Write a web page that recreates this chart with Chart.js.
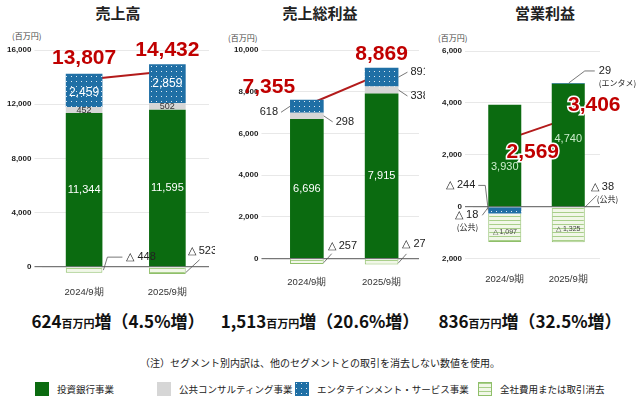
<!DOCTYPE html>
<html><head><meta charset="utf-8">
<script src="https://cdn.jsdelivr.net/npm/chart.js@4"></script>
<style>
body{margin:0;background:#fff;font-family:"Noto Sans CJK JP","Noto Sans",sans-serif;}
#wrap{position:relative;width:640px;height:406px;overflow:hidden;}
.box{position:absolute;top:0;}
.t{position:absolute;font-weight:bold;font-size:15px;color:#222;transform:translateX(-50%);white-space:nowrap;}
.u{position:absolute;font-size:8px;color:#444;}
.sum{position:absolute;top:308px;font-weight:bold;font-size:17px;color:#111;transform:translateX(-50%);white-space:nowrap;}
.sum small{font-size:11px;}
.note{position:absolute;top:355px;left:0;width:640px;text-align:center;font-size:10px;color:#222;}
.lg{position:absolute;top:382px;font-size:9.5px;color:#222;display:flex;align-items:center;}
.sw{width:14px;height:14px;margin-right:8px;display:inline-block;}
</style></head><body>
<div id="wrap">
  <div class="t" style="left:118px;top:2px">売上高</div>
  <div class="t" style="left:320px;top:2px">売上総利益</div>
  <div class="t" style="left:545px;top:2px">営業利益</div>
  <div class="u" style="left:12px;top:30px">(百万円)</div>
  <div class="u" style="left:228px;top:32px">(百万円)</div>
  <div class="u" style="left:438px;top:32px">(百万円)</div>
  <div class="box" style="left:0;width:215px;height:301px"><canvas id="c1"></canvas></div>
  <div class="box" style="left:213px;width:212px;height:291px"><canvas id="c2"></canvas></div>
  <div class="box" style="left:425px;width:215px;height:288px"><canvas id="c3"></canvas></div>
  <div class="sum" style="left:118px">624<small>百万円</small>増（4.5%増）</div>
  <div class="sum" style="left:320px">1,513<small>百万円</small>増（20.6%増）</div>
  <div class="sum" style="left:530px">836<small>百万円</small>増（32.5%増）</div>
  <div class="note">（注）セグメント別内訳は、他のセグメントとの取引を消去しない数値を使用。</div>
  <div class="lg" style="left:35px"><span class="sw" style="background:#0b6b10"></span>投資銀行事業</div>
  <div class="lg" style="left:157px"><span class="sw" style="background:#d6d6d6"></span>公共コンサルティング事業</div>
  <div class="lg" style="left:295px"><span class="sw" id="swEnt"></span>エンタテインメント・サービス事業</div>
  <div class="lg" style="left:478px"><span class="sw" id="swCorp" style="border:1px solid #8fbf6a;box-sizing:border-box"></span>全社費用または取引消去</div>
</div>
<script>
const periods = ['2024/9期', '2025/9期'];

const salesInvest = [11344, 11595];
const salesConsult = [452, 502];
const salesEnt = [2459, 2859];
const salesCorp = [-448, -523];
const salesTotal = [13807, 14432];

const grossInvest = [6696, 7915];
const grossConsult = [298, 338];
const grossEnt = [618, 891];
const grossCorp = [-257, -276];
const grossTotal = [7355, 8869];

const opInvest = [3930, 4740];
const opConsult = [-18, -38];
const opEnt = [-244, 29];
const opCorp = [-1097, -1325];
const opTotal = [2569, 3406];

const salesTicks = [0, 4000, 8000, 12000, 16000];
const grossTicks = [0, 2000, 4000, 6000, 8000, 10000];
const opTicks = [-2000, 0, 2000, 4000, 6000];

const GREEN = '#0b6b10', GRAY = '#d6d6d6', RED = '#b31b1b';

function makePattern(kind) {
  const c = document.createElement('canvas');
  const g = c.getContext('2d');
  if (kind === 'ent') {
    c.width = 5; c.height = 5;
    g.fillStyle = '#1f6fa5'; g.fillRect(0, 0, 5, 5);
    g.fillStyle = 'rgba(255,255,255,0.85)'; g.fillRect(1, 1, 1, 1);
  } else {
    c.width = 4; c.height = 4;
    g.fillStyle = '#f1f7e8'; g.fillRect(0, 0, 4, 4);
    g.fillStyle = '#a9cf8a'; g.fillRect(0, 0, 4, 1);
  }
  return c;
}
const entCanvas = makePattern('ent'), corpCanvas = makePattern('corp');
document.getElementById('swEnt').style.background = 'url(' + entCanvas.toDataURL() + ')';
document.getElementById('swCorp').style.background = 'url(' + corpCanvas.toDataURL() + ')';
const tmp = document.createElement('canvas').getContext('2d');
const entPat = tmp.createPattern(entCanvas, 'repeat');
const corpPat = tmp.createPattern(corpCanvas, 'repeat');

// draws value labels and callouts relative to each bar / point
const segLabels = {
  id: 'segLabels',
  afterDatasetsDraw(chart) {
    const items = chart.options.plugins.segLabels.items || [];
    const ctx = chart.ctx;
    ctx.save();
    items.forEach(it => {
      const el = chart.getDatasetMeta(it.ds).data[it.i];
      const val = chart.data.datasets[it.ds].data[it.i];
      let x = el.x, y = el.y;
      if (el.base !== undefined && it.ds < 4) {
        const top = Math.min(el.y, el.base), bot = Math.max(el.y, el.base), hw = el.width / 2;
        const a = it.a || 'mid';
        y = a.includes('t') ? top : a.includes('b') ? bot : (top + bot) / 2;
        x = a.includes('l') ? el.x - hw : a.includes('r') ? el.x + hw : el.x;
      }
      const txt = it.text || (val < 0 ? '△ ' + Math.abs(val).toLocaleString() : val.toLocaleString());
      if (it.path) {
        ctx.strokeStyle = '#555'; ctx.lineWidth = 0.8; ctx.beginPath();
        it.path.forEach((p, k) => k ? ctx.lineTo(x + p[0], y + p[1]) : ctx.moveTo(x + p[0], y + p[1]));
        ctx.stroke();
      }
      ctx.font = (it.bold ? 'bold ' : '') + (it.size || 11) + 'px "Liberation Sans", Arial, sans-serif';
      ctx.textAlign = it.align || 'center';
      ctx.textBaseline = 'middle';
      const tx = x + (it.dx || 0), ty = y + (it.dy || 0);
      if (it.halo) { ctx.strokeStyle = '#fff'; ctx.lineWidth = 3; ctx.strokeText(txt, tx, ty); }
      ctx.fillStyle = it.color || '#222';
      ctx.fillText(txt, tx, ty);
      if (it.sub) {
        ctx.font = '8px "Noto Sans CJK JP", sans-serif';
        ctx.fillText(it.sub, tx + (it.subdx || 0), ty + 12);
      }
    });
    ctx.restore();
  }
};

function build(id, series, ticks, min, max, point, pad, barPct, items) {
  const [inv, con, ent, corp, tot] = series;
  new Chart(document.getElementById(id), {
    data: {
      labels: periods,
      datasets: [
        { type: 'bar', data: inv, backgroundColor: GREEN, stack: 's' },
        { type: 'bar', data: con, backgroundColor: GRAY, stack: 's' },
        { type: 'bar', data: ent, backgroundColor: entPat, stack: 's' },
        { type: 'bar', data: corp, backgroundColor: corpPat, borderColor: '#8fbf6a', borderWidth: 1, stack: 's' },
        { type: 'line', data: tot, stack: 'tot', borderColor: RED, borderWidth: 2, pointStyle: point,
          pointRadius: 4.5, pointBackgroundColor: '#c00000', pointBorderColor: '#fff', pointBorderWidth: 1 }
      ]
    },
    options: {
      responsive: true, maintainAspectRatio: false, animation: false,
      layout: { padding: pad },
      datasets: { bar: { barPercentage: barPct, categoryPercentage: 1 } },
      scales: {
        x: { stacked: true, grid: { display: false }, border: { display: false },
             ticks: { color: '#333', font: { size: 9.5 } } },
        y: { stacked: true, min: min, max: max,
             afterBuildTicks: s => { s.ticks = ticks.map(v => ({ value: v })); },
             grid: { color: c => c.tick && c.tick.value === 0 ? '#777' : '#e8e8e8', lineWidth: c => c.tick && c.tick.value === 0 ? 1.2 : 1 },
             border: { display: false },
             ticks: { color: '#222', font: { size: 8, weight: 'bold' }, callback: v => Math.abs(v).toLocaleString() } }
      },
      plugins: { legend: { display: false }, tooltip: { enabled: false }, segLabels: { items: items } }
    },
    plugins: [segLabels]
  });
}

build('c1', [salesInvest, salesConsult, salesEnt, salesCorp, salesTotal], salesTicks, -650, 16000, 'rect',
  { top: 50, right: 6, left: 4, bottom: 0 }, 0.44, [
  { ds: 0, i: 0, color: '#fff', size: 11 }, { ds: 0, i: 1, color: '#fff', size: 11 },
  { ds: 1, i: 0, size: 9, color: '#333' }, { ds: 1, i: 1, size: 9, color: '#333' },
  { ds: 2, i: 0, color: '#fff', size: 12, dy: 2 }, { ds: 2, i: 1, color: '#fff', size: 12, dy: 0 },
  { ds: 3, i: 0, a: 'r', align: 'left', size: 11, dx: 24, dy: -13, path: [[1, 0], [5, -13], [20, -13]] },
  { ds: 3, i: 1, a: 'r', align: 'left', size: 11, dx: 2, dy: -20, path: [[0, 2], [14, -11]] },
  { ds: 4, i: 0, color: '#c00000', bold: true, size: 21, dy: -22 },
  { ds: 4, i: 1, color: '#c00000', bold: true, size: 21, dy: -21 }
]);

build('c2', [grossInvest, grossConsult, grossEnt, grossCorp, grossTotal], grossTicks, -330, 10000, 'rect',
  { top: 50, right: 6, left: 18, bottom: 0 }, 0.45, [
  { ds: 0, i: 0, color: '#fff', size: 11 }, { ds: 0, i: 1, color: '#fff', size: 11 },
  { ds: 1, i: 0, a: 'r', align: 'left', size: 11, dx: 12, dy: 6, path: [[0, 0], [9, 6]] },
  { ds: 1, i: 1, a: 'r', align: 'left', size: 11, dx: 12, dy: 6, path: [[0, 0], [9, 6]] },
  { ds: 2, i: 0, a: 'l', align: 'right', size: 11, dx: -12, dy: 6, path: [[0, 0], [-9, 6]] },
  { ds: 2, i: 1, a: 'r', align: 'left', size: 11, dx: 12, dy: -5, path: [[0, 0], [9, -5]] },
  { ds: 3, i: 0, a: 'r', align: 'left', size: 11, dx: 4, dy: -16, path: [[0, 1], [8, -8]] },
  { ds: 3, i: 1, a: 'r', align: 'left', size: 11, dx: 4, dy: -18, path: [[0, 1], [8, -8]] },
  { ds: 4, i: 0, color: '#c00000', bold: true, size: 21, dx: -38, dy: -18 },
  { ds: 4, i: 1, color: '#c00000', bold: true, size: 21, dx: 0, dy: -19 }
]);

build('c3', [opInvest, opConsult, opEnt, opCorp, opTotal], opTicks, -2150, 6000, 'circle',
  { top: 51, right: 40, left: 14, bottom: 0 }, 0.52, [
  { ds: 0, i: 0, color: '#cdeecd', size: 11, dy: 12 }, { ds: 0, i: 1, color: '#cdeecd', size: 11, dy: -6 },
  { ds: 2, i: 0, a: 'l', align: 'right', size: 11, dx: -13, dy: -25, path: [[0, 0], [-3, -25], [-10, -25]] },
  { ds: 1, i: 0, a: 'l', align: 'right', size: 11, dx: -10, dy: 8, sub: '(公共)', subdx: 0, path: [[0, 0], [-6, 8]] },
  { ds: 3, i: 0, size: 7, color: '#444', dy: 4, text: '△ 1,097' },
  { ds: 3, i: 1, size: 7, color: '#444', dy: 4, text: '△ 1,325' },
  { ds: 2, i: 1, a: 'tr', align: 'left', size: 11, dx: 14, dy: -12, text: '29', sub: '(エンタメ)', subdx: 0, path: [[-16, 0], [0, -12], [10, -12]] },
  { ds: 1, i: 1, a: 'tr', align: 'left', size: 11, dx: 6, dy: -20, sub: '(公共)', subdx: 6, path: [[0, 0], [12, -12]] },
  { ds: 4, i: 0, color: '#c00000', bold: true, size: 21, dx: 28, dy: 12, halo: true },
  { ds: 4, i: 1, color: '#c00000', bold: true, size: 21, dx: 26, dy: -13, halo: true }
]);
</script>
</body></html>
